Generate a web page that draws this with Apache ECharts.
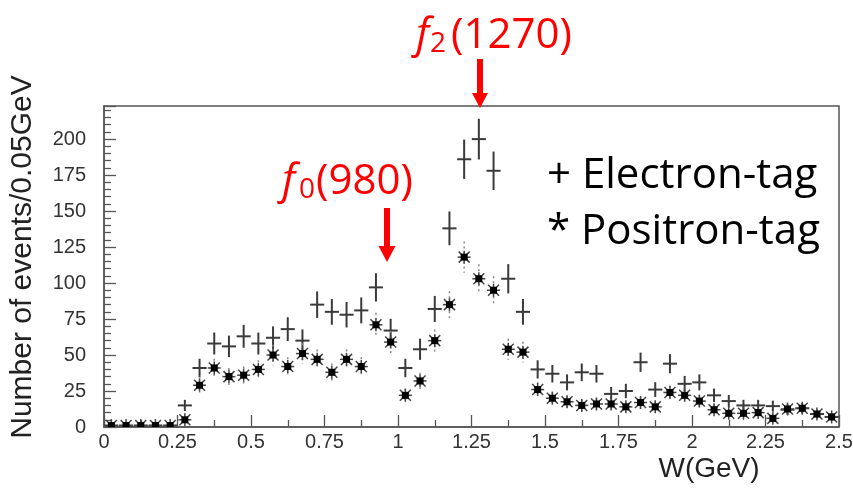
<!DOCTYPE html>
<html>
<head>
<meta charset="utf-8">
<script src="https://cdn.jsdelivr.net/npm/echarts@6/dist/echarts.min.js"></script>
<style>
  html, body { margin: 0; padding: 0; background: #fff; }
  #chart { width: 853px; height: 495px; }
</style>
</head>
<body>
<div id="chart"></div>
<script>
// bin centres, 0.05 GeV bins
var binCenters = [
  0.025, 0.075, 0.125, 0.175, 0.225, 0.275, 0.325, 0.375, 0.425, 0.475,
  0.525, 0.575, 0.625, 0.675, 0.725, 0.775, 0.825, 0.875, 0.925, 0.975,
  1.025, 1.075, 1.125, 1.175, 1.225, 1.275, 1.325, 1.375, 1.425, 1.475,
  1.525, 1.575, 1.625, 1.675, 1.725, 1.775, 1.825, 1.875, 1.925, 1.975,
  2.025, 2.075, 2.125, 2.175, 2.225, 2.275, 2.325, 2.375, 2.425, 2.475
];
var electronTag = [
  1, 1, 1, 1, 1, 15, 41, 58, 56, 63,
  58, 62, 68, 60, 85, 80, 78, 81, 97, 67,
  41, 54, 82, 138, 186, 200, 178, 103, 80, 40,
  37, 31, 38, 37, 23, 25, 45, 26, 44, 30,
  31, 22, 18, 15, 15, 14.5, 12, 13, 9, 7
];
var positronTag = [
  1, 1, 1, 1, 1, 5, 29, 41, 35, 36,
  40, 50, 42, 51, 47, 38, 47, 42, 71, 59,
  22, 32, 60, 85, 118, 103, 95, 54, 52, 26,
  20, 17.5, 15, 16, 16, 14, 17, 14, 24, 22,
  18, 12, 9.5, 9.5, 10, 6, 12.5, 13, 9, 7
];
var xTickLabels = ['0', '0.25', '0.5', '0.75', '1', '1.25', '1.5', '1.75', '2', '2.25', '2.5'];
var yTickLabels = [0, 25, 50, 75, 100, 125, 150, 175, 200];

var halfBin = 0.024;
var chart = echarts.init(document.getElementById('chart'));

function pairs(vals) {
  return vals.map(function (v, i) { return [binCenters[i], v]; });
}

// "+" marker: horizontal bin width, vertical sqrt(N) error
function crossItem(params, api) {
  var x = api.value(0), y = api.value(1);
  var err = Math.sqrt(y);
  var c = api.coord([x, y]);
  var l = api.coord([x - halfBin, y]);
  var r = api.coord([x + halfBin, y]);
  var t = api.coord([x, y + err]);
  var b = api.coord([x, Math.max(y - err, 0)]);
  var st = { stroke: '#3a3a3a', lineWidth: 2 };
  return {
    type: 'group',
    children: [
      { type: 'line', shape: { x1: l[0], y1: c[1], x2: r[0], y2: c[1] }, style: st },
      { type: 'line', shape: { x1: c[0], y1: t[1], x2: c[0], y2: b[1] }, style: st }
    ]
  };
}

// "*" marker with dotted error bar
function starItem(params, api) {
  var x = api.value(0), y = api.value(1);
  var err = Math.sqrt(y);
  var c = api.coord([x, y]);
  var t = api.coord([x, y + err]);
  var b = api.coord([x, Math.max(y - err, 0)]);
  var ray = { stroke: '#444', lineWidth: 1.5 };
  var cx = c[0], cy = c[1];
  return {
    type: 'group',
    children: [
      { type: 'line', shape: { x1: cx, y1: t[1], x2: cx, y2: b[1] },
        style: { stroke: '#888', lineWidth: 1.5, lineDash: [2, 3] } },
      { type: 'line', shape: { x1: cx - 6.5, y1: cy, x2: cx + 6.5, y2: cy }, style: ray },
      { type: 'line', shape: { x1: cx, y1: cy - 6.5, x2: cx, y2: cy + 6.5 }, style: ray },
      { type: 'line', shape: { x1: cx - 5.5, y1: cy - 5.5, x2: cx + 5.5, y2: cy + 5.5 }, style: ray },
      { type: 'line', shape: { x1: cx - 5.5, y1: cy + 5.5, x2: cx + 5.5, y2: cy - 5.5 }, style: ray },
      { type: 'rect', shape: { x: cx - 3.5, y: cy - 3.5, width: 7, height: 7 }, style: { fill: '#000' } }
    ]
  };
}

var red = '#ff0000';
var annoFont = '"Open Sans", sans-serif';

var options = {
  animation: false,
  grid: {
    left: 104, right: 14, top: 106, bottom: 68,
    show: true, borderColor: '#555', borderWidth: 1.5,
    outerBoundsMode: 'none'
  },
  xAxis: {
    type: 'value', min: 0, max: 2.5, interval: 0.25,
    axisLine: { lineStyle: { color: '#555', width: 1.5 } },
    axisTick: { inside: true, length: 12, lineStyle: { color: '#555', width: 1.3 } },
    minorTick: { show: true, splitNumber: 2, length: 7, lineStyle: { color: '#555', width: 1.3 } },
    splitLine: { show: false },
    axisLabel: {
      margin: 5, color: '#333', fontSize: 20, fontFamily: '"Liberation Sans", Arial',
      formatter: function (v, i) { return xTickLabels[i] !== undefined ? xTickLabels[i] : ''; }
    }
  },
  yAxis: {
    type: 'value', min: 0, max: 223, interval: 25,
    axisLine: { lineStyle: { color: '#555', width: 1.5 } },
    axisTick: { inside: true, length: 12, lineStyle: { color: '#555', width: 1.3 } },
    minorTick: { show: true, splitNumber: 5, length: 7, lineStyle: { color: '#555', width: 1.3 } },
    splitLine: { show: false },
    axisLabel: {
      margin: 18, color: '#333', fontSize: 20, fontFamily: '"Liberation Sans", Arial',
      showMaxLabel: false,
      formatter: function (v) { return yTickLabels.indexOf(v) >= 0 ? String(v) : ''; }
    }
  },
  series: [
    { name: 'Electron-tag', type: 'custom', renderItem: crossItem, data: pairs(electronTag), clip: true },
    { name: 'Positron-tag', type: 'custom', renderItem: starItem, data: pairs(positronTag), clip: true }
  ],
  graphic: [
    { type: 'text', x: 23, y: 257, rotation: Math.PI / 2,
      style: { text: 'Number of events/0.05GeV', font: '30px "Liberation Sans", Arial', fill: '#222',
               align: 'center', verticalAlign: 'middle', textAlign: 'center', textVerticalAlign: 'middle' } },
    { type: 'text', x: 709, y: 469,
      style: { text: 'W(GeV)', font: '28px "Liberation Sans", Arial', fill: '#222',
               align: 'center', verticalAlign: 'middle', textAlign: 'center', textVerticalAlign: 'middle' } },
    // legend text
    { type: 'text', x: 547, y: 176,
      style: { text: '+ Electron-tag', font: '42px ' + annoFont, fill: '#000', verticalAlign: 'middle', textVerticalAlign: 'middle' } },
    { type: 'text', x: 547, y: 232,
      style: { text: '* Positron-tag', font: '42px ' + annoFont, fill: '#000', verticalAlign: 'middle', textVerticalAlign: 'middle' } },
    // f0(980)
    { type: 'text', x: 282, y: 182,
      style: { text: 'f', font: 'italic 42px ' + annoFont, fill: red, verticalAlign: 'middle', textVerticalAlign: 'middle' } },
    { type: 'text', x: 299, y: 190,
      style: { text: '0', font: '28px ' + annoFont, fill: red, verticalAlign: 'middle', textVerticalAlign: 'middle' } },
    { type: 'text', x: 316, y: 182,
      style: { text: '(980)', font: '42px ' + annoFont, fill: red, verticalAlign: 'middle', textVerticalAlign: 'middle' } },
    { type: 'polygon',
      shape: { points: [[384, 208], [390, 208], [390, 246], [395.5, 246], [387, 262], [378.5, 246], [384, 246]] },
      style: { fill: red } },
    // f2(1270)
    { type: 'text', x: 416, y: 36,
      style: { text: 'f', font: 'italic 42px ' + annoFont, fill: red, verticalAlign: 'middle', textVerticalAlign: 'middle' } },
    { type: 'text', x: 430, y: 44,
      style: { text: '2', font: '28px ' + annoFont, fill: red, verticalAlign: 'middle', textVerticalAlign: 'middle' } },
    { type: 'text', x: 451, y: 36,
      style: { text: '(1270)', font: '42px ' + annoFont, fill: red, verticalAlign: 'middle', textVerticalAlign: 'middle' } },
    { type: 'polygon',
      shape: { points: [[477, 59], [483, 59], [483, 93], [488, 93], [480, 108], [472, 93], [477, 93]] },
      style: { fill: red } }
  ]
};
chart.setOption(options);
</script>
</body>
</html>
